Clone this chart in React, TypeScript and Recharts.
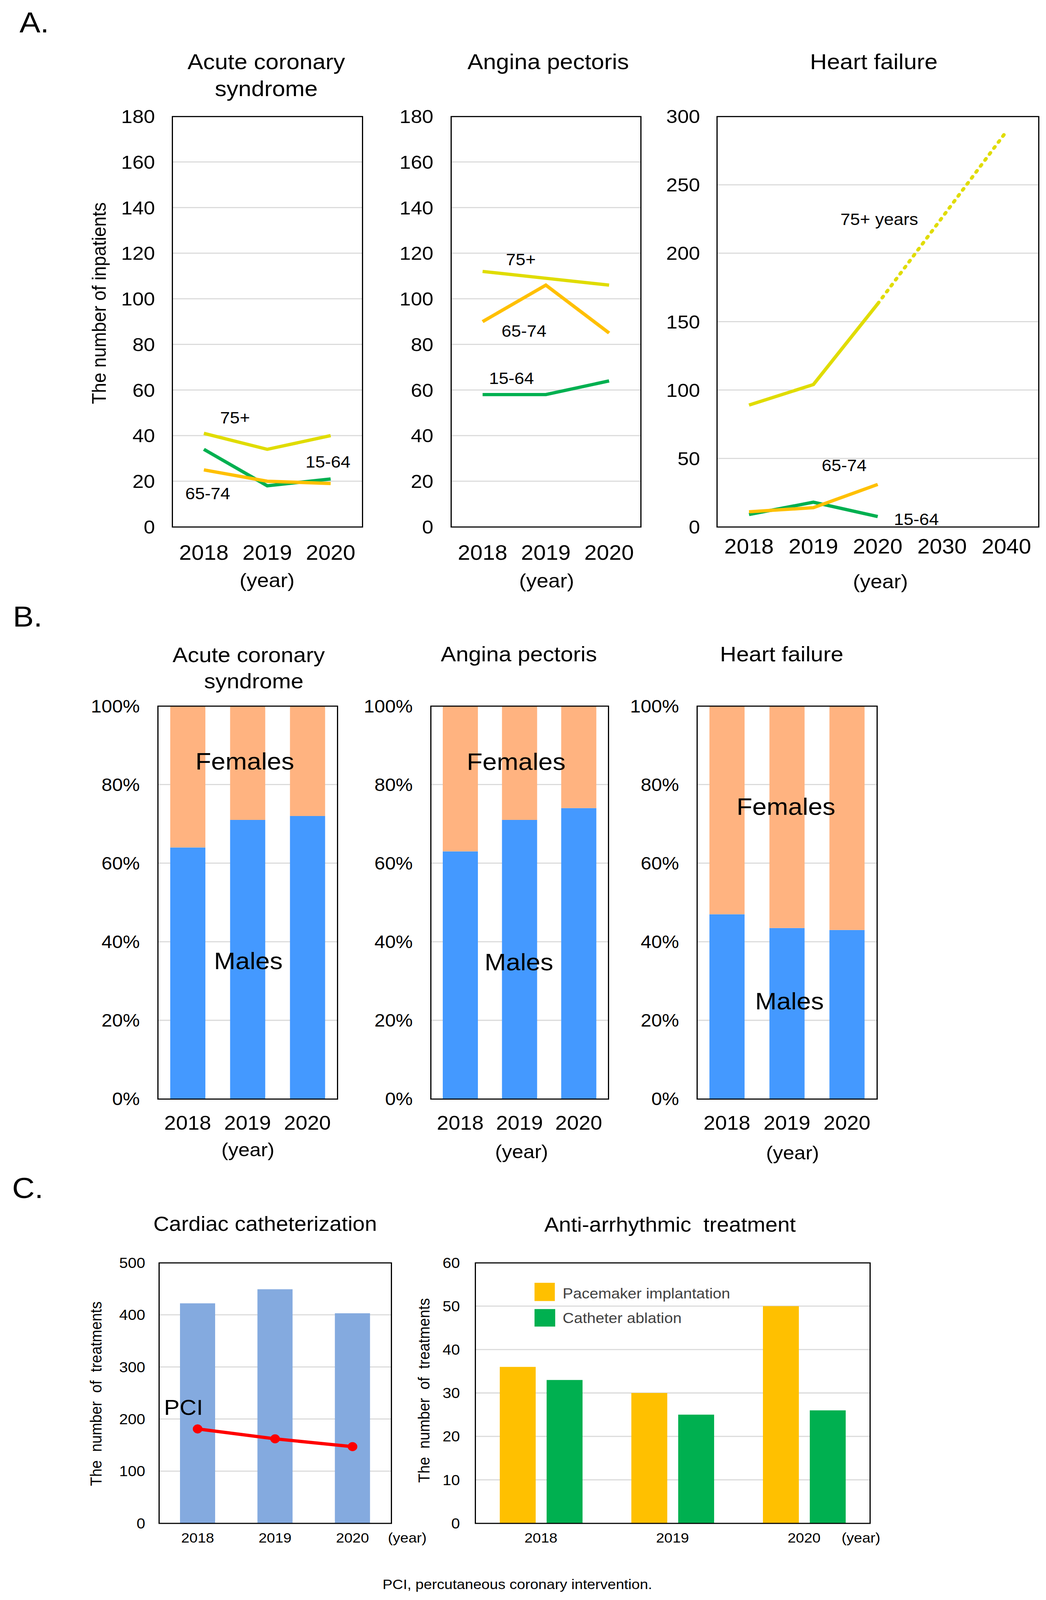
import React from "react";
import {
  LineChart,
  Line,
  BarChart,
  Bar,
  ComposedChart,
  XAxis,
  YAxis,
  CartesianGrid,
} from "recharts";

const FONT = '"Liberation Sans", Arial, sans-serif';
const GRID = "#D9D9D9";
const YELLOW = "#E0DC00";
const ORANGE = "#FFC000";
const GREEN = "#00B050";
const MALE = "#4499FF";
const FEMALE = "#FFB380";
const CATH = "#84AADF";
const RED = "#FF0000";

// the photographed viewport is shorter than the figure, so the whole figure is squeezed a little vertically
const SY = 0.934;

// ---- A. inpatients by age group ----
const yearsA = ["2018", "2019", "2020"];
const yearsHF = ["2018", "2019", "2020", "2030", "2040"];

const acs75 = [41, 34, 40];
const acs6574 = [25, 20, 19];
const acs1564 = [34, 18, 21];

const ap75 = [112, 109, 106];
const ap6574 = [90, 106, 85];
const ap1564 = [58, 58, 64];

const hf75 = [89, 104, 163, null, null];
const hf75proj = [null, null, 163, null, 289];
const hf6574 = [11, 14, 31, null, null];
const hf1564 = [9, 18, 7.5, null, null];

const ticks180 = [0, 20, 40, 60, 80, 100, 120, 140, 160, 180];
const ticks300 = [0, 50, 100, 150, 200, 250, 300];

// ---- B. sex ratio (%) ----
const acsMales = [64, 71, 72];
const acsFemales = [36, 29, 28];
const apMales = [63, 71, 74];
const apFemales = [37, 29, 26];
const hfMales = [47, 43.5, 43];
const hfFemales = [53, 56.5, 57];
const pctTicks = [0, 20, 40, 60, 80, 100];

// ---- C. treatments ----
const cathTotal = [422, 449, 403];
const pciCount = [181, 162, 147];
const pacemaker = [36, 30, 50];
const ablation = [33, 25, 26];
const ticks500 = [0, 100, 200, 300, 400, 500];
const ticks60 = [0, 10, 20, 30, 40, 50, 60];

const ageRows = (years: string[], a: any[], b: any[], c: any[], d?: any[]) =>
  years.map((year, i) => ({ year, o75: a[i], o65: b[i], o15: c[i], proj: d ? d[i] : null }));
const sexRows = (m: number[], f: number[]) =>
  yearsA.map((year, i) => ({ year, males: m[i], females: f[i] }));

const acsData = ageRows(yearsA, acs75, acs6574, acs1564);
const apData = ageRows(yearsA, ap75, ap6574, ap1564);
const hfData = ageRows(yearsHF, hf75, hf6574, hf1564, hf75proj);
const cathData = yearsA.map((year, i) => ({ year, total: cathTotal[i], pci: pciCount[i] }));
const arrData = yearsA.map((year, i) => ({ year, pace: pacemaker[i], abl: ablation[i] }));

type Rect = { x: number; y: number; w: number; h: number };
const MT = 40;
const MR = 40;
const YW = 220;
const XH = 140;

function Box({ r, children }: { r: Rect; children: React.ReactNode }) {
  return (
    <>
      <div style={{ position: "absolute", left: r.x - YW, top: r.y - MT }}>{children}</div>
      <div
        style={{
          position: "absolute",
          left: r.x - 1.5,
          top: r.y - 1.5,
          width: r.w + 3,
          height: r.h + 3,
          border: "3px solid #000",
          boxSizing: "border-box",
          pointerEvents: "none",
        }}
      />
    </>
  );
}

function Txt({
  x,
  y,
  size,
  children,
  anchor = "middle",
  rotate,
  color = "#000",
}: {
  x: number;
  y: number;
  size: number;
  children: React.ReactNode;
  anchor?: "start" | "middle";
  rotate?: number;
  color?: string;
}) {
  const tx = anchor === "middle" ? "-50%" : "0";
  return (
    <div
      style={{
        position: "absolute",
        left: x,
        top: y,
        transform: `translate(${tx}, -50%)${rotate ? ` rotate(${rotate}deg)` : ""}`,
        fontSize: size,
        fontFamily: FONT,
        lineHeight: 1,
        whiteSpace: "pre",
        color,
      }}
    >
      {children}
    </div>
  );
}

const tickStyle = (size: number) => ({ fill: "#000", fontSize: size, fontFamily: FONT });
const margin = { top: MT, right: MR, left: 0, bottom: 0 };

function AgePanel({
  r,
  data,
  ticks,
  xGap,
  yGap,
  hf,
}: {
  r: Rect;
  data: any[];
  ticks: number[];
  xGap: number;
  yGap: number;
  hf?: boolean;
}) {
  const pad = r.w / (2 * data.length);
  return (
    <Box r={r}>
      <LineChart width={r.w + YW + MR} height={r.h + MT + XH} data={data} margin={margin}>
        <CartesianGrid vertical={false} stroke={GRID} strokeWidth={3} />
        <XAxis
          dataKey="year"
          padding={{ left: pad, right: pad }}
          interval={0}
          axisLine={false}
          tickLine={false}
          tickSize={0}
          tickMargin={xGap}
          height={XH}
          tick={tickStyle(57)}
        />
        <YAxis
          domain={[0, ticks[ticks.length - 1]]}
          ticks={ticks}
          interval={0}
          width={YW}
          axisLine={false}
          tickLine={false}
          tickSize={0}
          tickMargin={yGap}
          tick={tickStyle(52)}
        />
        <Line dataKey="o75" stroke={YELLOW} strokeWidth={9} dot={false} isAnimationActive={false} />
        {hf && (
          <Line
            dataKey="proj"
            stroke={YELLOW}
            strokeWidth={9}
            strokeDasharray="5 15"
            strokeLinecap="round"
            connectNulls
            dot={false}
            isAnimationActive={false}
          />
        )}
        <Line dataKey="o15" stroke={GREEN} strokeWidth={9} dot={false} isAnimationActive={false} />
        <Line dataKey="o65" stroke={ORANGE} strokeWidth={9} dot={false} isAnimationActive={false} />
      </LineChart>
    </Box>
  );
}

function SexPanel({ r, m, f }: { r: Rect; m: number[]; f: number[] }) {
  return (
    <Box r={r}>
      <BarChart width={r.w + YW + MR} height={r.h + MT + XH} data={sexRows(m, f)} margin={margin}>
        <CartesianGrid vertical={false} stroke={GRID} strokeWidth={3} />
        <XAxis
          dataKey="year"
          interval={0}
          axisLine={false}
          tickLine={false}
          tickSize={0}
          tickMargin={46}
          height={XH}
          tick={tickStyle(54)}
        />
        <YAxis
          domain={[0, 100]}
          ticks={pctTicks}
          interval={0}
          width={YW}
          axisLine={false}
          tickLine={false}
          tickSize={0}
          tickMargin={46}
          tickFormatter={(v: number) => `${v}%`}
          tick={tickStyle(49)}
        />
        <Bar dataKey="males" stackId="s" fill={MALE} barSize={90} isAnimationActive={false} />
        <Bar dataKey="females" stackId="s" fill={FEMALE} barSize={90} isAnimationActive={false} />
      </BarChart>
    </Box>
  );
}

const A = {
  acs: { x: 441, y: 319, w: 487, h: 1125 },
  ap: { x: 1155, y: 319, w: 486, h: 1125 },
  hf: { x: 1836, y: 319, w: 824, h: 1125 },
};
const B = {
  acs: { x: 404, y: 1935, w: 460, h: 1077 },
  ap: { x: 1103, y: 1935, w: 455, h: 1077 },
  hf: { x: 1785, y: 1935, w: 461, h: 1077 },
};
const C = {
  cath: { x: 407, y: 3461, w: 595, h: 714 },
  arr: { x: 1217, y: 3461, w: 1011, h: 714 },
};

export default function App() {
  return (
    <div
      style={{
        position: "relative",
        margin: -8,
        width: 2679,
        height: Math.floor(4386 * SY),
        background: "#fff",
        overflow: "hidden",
      }}
    >
      <div
        style={{
          position: "absolute",
          left: 0,
          top: 0,
          width: 2679,
          height: 4386,
          fontFamily: FONT,
          transform: `scale(1, ${SY})`,
          transformOrigin: "0 0",
        }}
      >
        {/* ---------- A ---------- */}
        <Txt x={50} y={62} size={80} anchor="start">A.</Txt>
        <Txt x={682} y={169} size={60}>Acute coronary</Txt>
        <Txt x={682} y={243} size={60}>syndrome</Txt>
        <Txt x={1404} y={170} size={60}>Angina pectoris</Txt>
        <Txt x={2238} y={169} size={60}>Heart failure</Txt>
        <Txt x={254} y={831} size={50} rotate={-90}>The number of inpatients</Txt>

        <AgePanel r={A.acs} data={acsData} ticks={ticks180} xGap={50} yGap={44} />
        <AgePanel r={A.ap} data={apData} ticks={ticks180} xGap={50} yGap={45} />
        <AgePanel r={A.hf} data={hfData} ticks={ticks300} xGap={33} yGap={43} hf />

        <Txt x={602} y={1145} size={45}>75+</Txt>
        <Txt x={840} y={1266} size={45}>15-64</Txt>
        <Txt x={532} y={1353} size={45}>65-74</Txt>
        <Txt x={1334} y={711} size={45}>75+</Txt>
        <Txt x={1342} y={907} size={45}>65-74</Txt>
        <Txt x={1310} y={1037} size={45}>15-64</Txt>
        <Txt x={2252} y={601} size={45}>75+ years</Txt>
        <Txt x={2162} y={1276} size={45}>65-74</Txt>
        <Txt x={2347} y={1423} size={45}>15-64</Txt>

        <Txt x={684} y={1590} size={54}>(year)</Txt>
        <Txt x={1400} y={1591} size={54}>(year)</Txt>
        <Txt x={2255} y={1593} size={54}>(year)</Txt>

        {/* ---------- B ---------- */}
        <Txt x={33} y={1690} size={80} anchor="start">B.</Txt>
        <Txt x={637} y={1795} size={58}>Acute coronary</Txt>
        <Txt x={650} y={1867} size={58}>syndrome</Txt>
        <Txt x={1329} y={1793} size={58}>Angina pectoris</Txt>
        <Txt x={2002} y={1793} size={58}>Heart failure</Txt>

        <SexPanel r={B.acs} m={acsMales} f={acsFemales} />
        <SexPanel r={B.ap} m={apMales} f={apFemales} />
        <SexPanel r={B.hf} m={hfMales} f={hfFemales} />

        <Txt x={627} y={2086} size={66}>Females</Txt>
        <Txt x={636} y={2633} size={66}>Males</Txt>
        <Txt x={1322} y={2087} size={66}>Females</Txt>
        <Txt x={1329} y={2636} size={66}>Males</Txt>
        <Txt x={2013} y={2210} size={66}>Females</Txt>
        <Txt x={2022} y={2744} size={66}>Males</Txt>

        <Txt x={635} y={3151} size={52}>(year)</Txt>
        <Txt x={1336} y={3157} size={52}>(year)</Txt>
        <Txt x={2030} y={3160} size={52}>(year)</Txt>

        {/* ---------- C ---------- */}
        <Txt x={31} y={3257} size={80} anchor="start">C.</Txt>
        <Txt x={679} y={3355} size={56}>Cardiac catheterization</Txt>
        <Txt x={1716} y={3357} size={56}>Anti-arrhythmic  treatment</Txt>
        <Txt x={246} y={3820} size={41} rotate={-90}>The  number  of  treatments</Txt>
        <Txt x={1086} y={3811} size={41} rotate={-90}>The  number  of  treatments</Txt>

        <Box r={C.cath}>
          <ComposedChart
            width={C.cath.w + YW + MR}
            height={C.cath.h + MT + XH}
            data={cathData}
            margin={margin}
          >
            <CartesianGrid vertical={false} stroke={GRID} strokeWidth={3} />
            <XAxis
              dataKey="year"
              interval={0}
              axisLine={false}
              tickLine={false}
              tickSize={0}
              tickMargin={26}
              height={XH}
              tick={tickStyle(38)}
            />
            <YAxis
              domain={[0, 500]}
              ticks={ticks500}
              interval={0}
              width={YW}
              axisLine={false}
              tickLine={false}
              tickSize={0}
              tickMargin={35}
              tick={tickStyle(40)}
            />
            <Bar dataKey="total" fill={CATH} barSize={90} isAnimationActive={false} />
            <Line
              dataKey="pci"
              stroke={RED}
              strokeWidth={9}
              dot={{ r: 12, fill: RED, stroke: RED, strokeWidth: 1 }}
              isAnimationActive={false}
            />
          </ComposedChart>
        </Box>

        <Box r={C.arr}>
          <BarChart
            width={C.arr.w + YW + MR}
            height={C.arr.h + MT + XH}
            data={arrData}
            margin={margin}
            barGap={28}
          >
            <CartesianGrid vertical={false} stroke={GRID} strokeWidth={3} />
            <XAxis
              dataKey="year"
              interval={0}
              axisLine={false}
              tickLine={false}
              tickSize={0}
              tickMargin={26}
              height={XH}
              tick={tickStyle(38)}
            />
            <YAxis
              domain={[0, 60]}
              ticks={ticks60}
              interval={0}
              width={YW}
              axisLine={false}
              tickLine={false}
              tickSize={0}
              tickMargin={39}
              tick={tickStyle(40)}
            />
            <Bar dataKey="pace" fill={ORANGE} barSize={92} isAnimationActive={false} />
            <Bar dataKey="abl" fill={GREEN} barSize={92} isAnimationActive={false} />
          </BarChart>
        </Box>

        {/* legend */}
        <div style={{ position: "absolute", left: 1369, top: 3516, width: 52, height: 50, background: ORANGE }} />
        <div style={{ position: "absolute", left: 1369, top: 3588, width: 53, height: 48, background: GREEN }} />
        <Txt x={1441} y={3545} size={40} anchor="start" color="#404040">Pacemaker implantation</Txt>
        <Txt x={1441} y={3612} size={40} anchor="start" color="#404040">Catheter ablation</Txt>

        <Txt x={470} y={3858} size={60}>PCI</Txt>
        <Txt x={1043} y={4215} size={38}>(year)</Txt>
        <Txt x={2205} y={4215} size={38}>(year)</Txt>
        <Txt x={1325} y={4342} size={38}>PCI, percutaneous coronary intervention.</Txt>
      </div>
    </div>
  );
}
